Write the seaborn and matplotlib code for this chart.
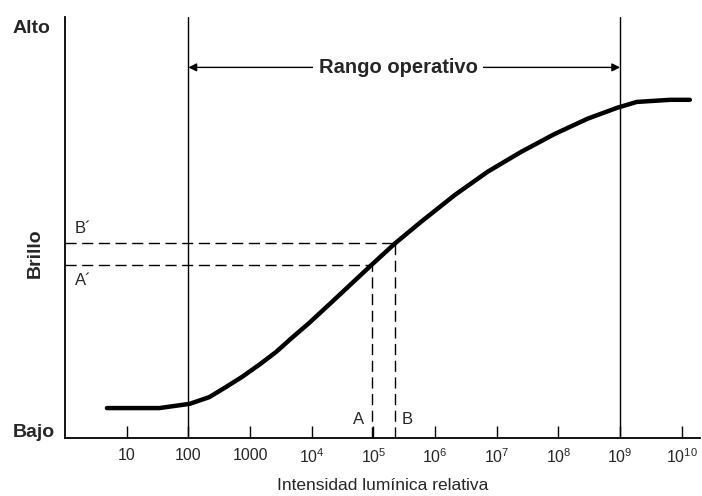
import matplotlib
matplotlib.use("Agg")
import matplotlib.pyplot as plt
import numpy as np
import pandas as pd
import seaborn as sns

sns.set_style("white")
plt.rcParams['font.family'] = ['Liberation Sans', 'DejaVu Sans']
plt.rcParams['mathtext.default'] = 'regular'

# curve: log10(intensity) and brightness (0 = Bajo, 10 = Alto)
log_intensity = [0.68, 1.53, 2.02, 2.34, 2.61, 2.87, 3.15, 3.42, 3.68, 3.95, 4.32,
                 4.97, 5.35, 5.77, 6.32, 6.85, 7.39, 7.94, 8.47, 8.95, 9.27, 9.81, 10.13]
brightness = [0.71, 0.71, 0.81, 0.97, 1.21, 1.45, 1.74, 2.04, 2.38, 2.72, 3.22,
              4.11, 4.62, 5.13, 5.77, 6.32, 6.79, 7.22, 7.58, 7.84, 7.98, 8.03, 8.03]

tick_exponents = [1, 2, 3, 4, 5, 6, 7, 8, 9, 10]
tick_labels = ['10', '100', '1000', '10$^{4}$', '10$^{5}$', '10$^{6}$',
               '10$^{7}$', '10$^{8}$', '10$^{9}$', '10$^{10}$']

range_limits = [100, 1e9]
point_a = (10**4.97, 4.11)
point_b = (10**5.35, 4.62)

df = pd.DataFrame({'intensity': [10**v for v in log_intensity], 'brightness': brightness})

fig = plt.figure(figsize=(7.02, 4.96), dpi=100)
ax = fig.add_axes([0.0926, 0.117, 0.905, 0.849])

sns.lineplot(data=df, x='intensity', y='brightness', color='black', linewidth=3.2, ax=ax)
ax.set_xscale('log')
ax.set_xlim(1, 10**10.3)
ax.set_ylim(0, 10)

for x in range_limits:
    ax.axvline(x, color='black', linewidth=1.0)

dash = (0, (8, 4))
for (px, py) in [point_a, point_b]:
    ax.plot([1, px], [py, py], color='black', linewidth=1.0, linestyle=dash)
    ax.plot([px, px], [0, py], color='black', linewidth=1.0, linestyle=dash)

ax.annotate('', xy=(range_limits[0], 8.8), xytext=(range_limits[1], 8.8),
            arrowprops=dict(arrowstyle='<|-|>', color='black', lw=1.0, mutation_scale=12,
                            shrinkA=0, shrinkB=0))
ax.text(10**5.4, 8.8, 'Rango operativo', ha='center', va='center', fontsize=14.5,
        fontweight='bold', bbox=dict(facecolor='white', edgecolor='none', pad=4))

ax.text(1.45, point_b[1] + 0.18, 'B\u00b4', fontsize=12, va='bottom')
ax.text(1.45, point_a[1] - 0.2, 'A\u00b4', fontsize=12, va='top')
ax.text(point_a[0] / 1.3, 0.25, 'A', fontsize=12, ha='right', va='bottom')
ax.text(point_b[0] * 1.3, 0.25, 'B', fontsize=12, ha='left', va='bottom')

ax.set_xticks([10**e for e in tick_exponents])
ax.set_xticklabels(tick_labels, fontsize=11.5)
ax.minorticks_off()
ax.tick_params(axis='x', which='major', bottom=True, direction='in', length=9, width=1,
               color='black', pad=7)
ax.set_yticks([])
ax.set_xlabel('Intensidad lumínica relativa', fontsize=12.5, labelpad=8)
ax.set_ylabel('')

sns.despine(ax=ax, top=True, right=True)
for s in ['left', 'bottom']:
    ax.spines[s].set_linewidth(1.3)
    ax.spines[s].set_color('black')

fig.text(0.018, 0.943, 'Alto', fontsize=14, fontweight='bold', va='center')
fig.text(0.018, 0.128, 'Bajo', fontsize=14, fontweight='bold', va='center')
fig.text(0.05, 0.49, 'Brillo', fontsize=14, fontweight='bold', va='center', ha='center',
         rotation=90)

fig.savefig('out.png', dpi=100)
